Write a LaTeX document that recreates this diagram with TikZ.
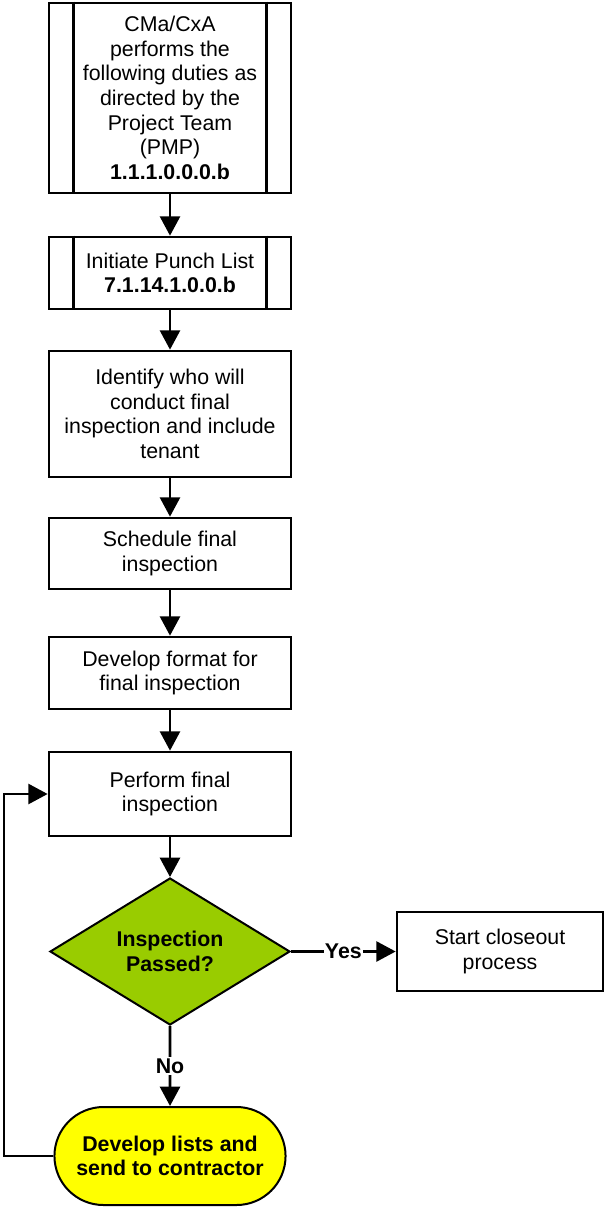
\documentclass[tikz,border=0pt]{standalone}
\usepackage{fontspec}
\setmainfont{Liberation Sans}
\usetikzlibrary{arrows.meta,positioning,shapes.geometric,shapes.misc}
\definecolor{passgreen}{HTML}{99CC00}
\definecolor{termyellow}{HTML}{FFFF00}

\begin{document}
\begin{tikzpicture}[x=0.75pt,y=-0.75pt,
  font=\fontsize{16}{18.5}\selectfont,
  box/.style={draw, line width=2pt, align=center, minimum width=181.5pt, inner sep=2pt},
  flow/.style={line width=2pt, -{Triangle[length=14.5pt,width=15pt]}},
  lbl/.style={fill=white, inner sep=1pt, font=\fontsize{16}{18.5}\selectfont\bfseries}]
\useasboundingbox (0,0) rectangle (605,1209);
% predefined steps
\node[box, minimum height=142.5pt] (cma) at (170,98)
  {CMa/CxA\\performs the\\following duties as\\directed by the\\Project Team\\(PMP)\\\textbf{1.1.1.0.0.0.b}};
\node[box, minimum height=54pt] (punch) at (170,273)
  {Initiate Punch List\\\textbf{7.1.14.1.0.0.b}};
\foreach \n in {cma,punch} {
  \draw[line width=2pt] ([xshift=19.5pt]\n.north west) -- ([xshift=19.5pt]\n.south west);
  \draw[line width=2pt] ([xshift=-19.5pt]\n.north east) -- ([xshift=-19.5pt]\n.south east);
}
% process steps
\node[box, minimum height=94.5pt] (who) at (170,414)
  {Identify who will\\conduct final\\inspection and include\\tenant};
\node[box, minimum height=53.25pt] (sched) at (170,553.5)
  {Schedule final\\inspection};
\node[box, minimum height=54pt] (format) at (170,673)
  {Develop format for\\final inspection};
\node[box, minimum height=63pt] (perform) at (170,794)
  {Perform final\\inspection};
% decision
\node[diamond, draw, line width=1.5pt, fill=passgreen, minimum width=180pt,
  minimum height=107.25pt, inner sep=0pt, align=center, font=\fontsize{16}{18.5}\selectfont\bfseries]
  (pass) at (170,951.5) {Inspection\\Passed?};
\node[box, minimum width=154.5pt, minimum height=59.25pt] (close) at (500,951.5)
  {Start closeout\\process};
\node[rounded rectangle, draw, line width=1.5pt, fill=termyellow, minimum width=180pt,
  minimum height=73.5pt, align=center, font=\fontsize{16}{18.5}\selectfont\bfseries]
  (lists) at (170,1156) {Develop lists and\\send to contractor};
\coordinate (loop) at (4,1156);
% connectors
\draw[flow] (cma) -- (punch);
\draw[flow] (punch) -- (who);
\draw[flow] (who) -- (sched);
\draw[flow] (sched) -- (format);
\draw[flow] (format) -- (perform);
\draw[flow] (perform) -- (pass);
\draw[flow] (pass) -- node[lbl]{Yes} (close);
\draw[flow] (pass) -- node[lbl]{No} (lists);
\draw[flow] (lists.west) -- (loop) |- (perform.west);
\end{tikzpicture}
\end{document}
